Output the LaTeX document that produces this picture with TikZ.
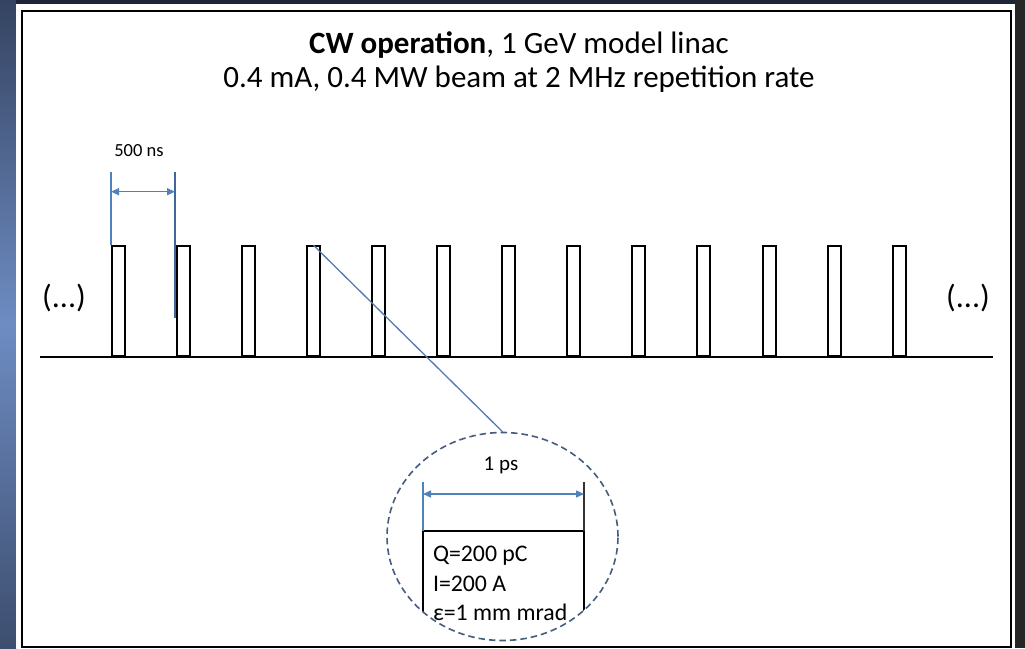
\documentclass[tikz,border=0pt]{standalone}
\usepackage{fontspec}
\setmainfont{Carlito}
\usetikzlibrary{arrows.meta,shapes.geometric,calc}
\definecolor{dimblue}{RGB}{79,129,189}
\definecolor{zoomblue}{RGB}{84,122,178}
\definecolor{magblue}{RGB}{70,92,126}
\definecolor{bgnavy}{RGB}{28,36,54}
\definecolor{bglight}{RGB}{110,140,195}
\tikzset{
  pulse/.style={draw=black, line width=1.8pt, minimum width=13pt, minimum height=110pt, inner sep=0pt, anchor=south west},
  baseln/.style={line width=1.8pt, black},
  dimline/.style={dimblue, line width=1.2pt},
  dimarrow/.style={dimblue, line width=1.4pt, {Triangle[length=8pt,width=7pt]}-{Triangle[length=8pt,width=7pt]}},
  titlefont/.style={font=\fontsize{31}{37}\selectfont},
  dotsfont/.style={font=\fontsize{32}{38}\selectfont},
  smallfont/.style={font=\fontsize{18.5}{22}\selectfont},
  psfont/.style={font=\fontsize{21}{25}\selectfont},
  boxfont/.style={font=\fontsize{23.8}{29}\selectfont},
  lbl/.style={inner sep=0pt, outer sep=0pt}
}
\begin{document}
\begin{tikzpicture}[x=1pt,y=-1pt]
\useasboundingbox (0,0) rectangle (1025,648);
% background
\fill[bgnavy] (0,0) rectangle (1025,648);
\shade[top color=bgnavy!70!bglight, bottom color=bgnavy!60!bglight, middle color=bglight] (0,0) rectangle (16,648);
\fill[black!85] (1015,0) rectangle (1025,648);
\fill[white] (16,4) rectangle (1015,648);
\draw[line width=2.2pt] (22,11) rectangle (1011,647);
% titles
\node[lbl, titlefont, anchor=base] (t1) at (519,53) {\textbf{CW operation}, 1 GeV model linac};
\node[lbl, titlefont, anchor=base] (t2) at (519,87) {0.4 mA, 0.4 MW beam at 2 MHz repetition rate};
% pulses
\foreach \i/\x in {1/111,2/176,3/241,4/306,5/371,6/436,7/501,8/566,9/631,10/696,11/762,12/827,13/892}
  \node[pulse] (p\i) at (\x,357) {};
\coordinate (bl) at (40,357);
\coordinate (br) at (993,357);
\draw[baseln] (bl) -- (br);
% ellipsis labels
\node[lbl, dotsfont] (dl) at (64,298) {(...)};
\node[lbl, dotsfont] (dr) at (968,298) {(...)};
% 500 ns dimension
\coordinate (a1) at (111,172);
\coordinate (a2) at (175,172);
\coordinate (a2b) at (175,318);
\coordinate (h1) at (111,191.7);
\coordinate (h2) at (175,191.7);
\draw[dimline] (p1.north west) -- (a1);
\draw[dimline, dimblue!80!black] (a2b) -- (a2);
\draw[dimarrow] (h1) -- (h2);
\node[lbl, smallfont] (l500) at (139,151) {500 ns};
% magnifier
\coordinate (mc) at (502.5,536.5);
\begin{scope}
  \clip (mc) ellipse [x radius=115.5, y radius=104];
  \coordinate (bxl) at (423,660);
  \coordinate (bxtl) at (423,531);
  \coordinate (bxtr) at (584,531);
  \coordinate (bxr) at (584,660);
  \draw[line width=2pt] (bxl) -- (bxtl) -- (bxtr) -- (bxr);
\end{scope}
\node[draw=magblue, dash pattern=on 6.5pt off 4pt, line width=1.6pt, ellipse, minimum width=231pt, minimum height=208pt, inner sep=0pt] (mag) at (mc) {};
\draw[zoomblue, line width=1.3pt] (p4.north) -- (mag.north);
% 1 ps dimension
\coordinate (b1) at (423,482);
\coordinate (b2) at (584,482);
\coordinate (k1) at (423,494);
\coordinate (k2) at (584,494);
\draw[dimline] (bxtl) -- (b1);
\draw[line width=1.2pt, black!80] (bxtr) -- (b2);
\draw[dimarrow] (k1) -- (k2);
\node[lbl, psfont] (l1ps) at (501,465) {1 ps};
% box text
\node[lbl, boxfont, anchor=base west] (q) at (433,561) {Q=200 pC};
\node[lbl, boxfont, anchor=base west] (cur) at (433,591) {I=200 A};
\node[lbl, boxfont, anchor=base west] (eps) at (433,620) {ε=1 mm mrad};
\end{tikzpicture}
\end{document}
